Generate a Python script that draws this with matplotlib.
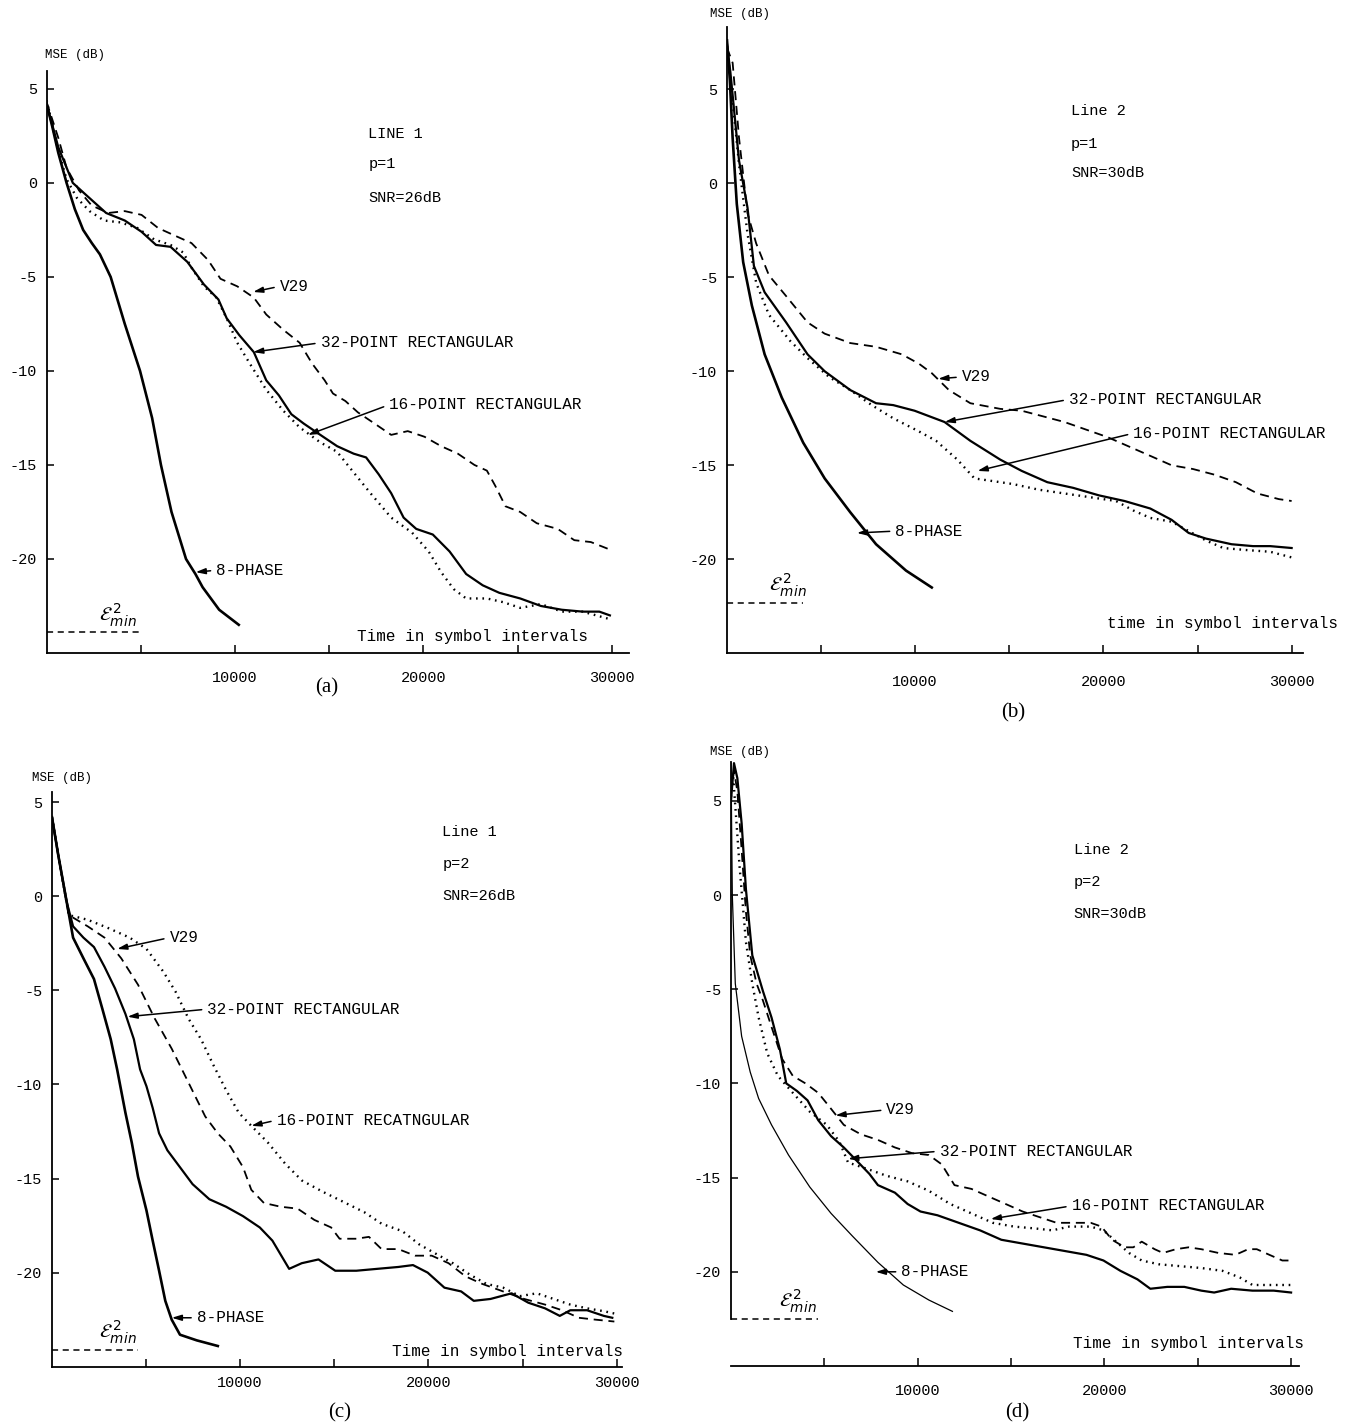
import numpy as np
import matplotlib.pyplot as plt

plt.rcParams['font.family'] = ['Liberation Mono', 'DejaVu Sans']

# ---- data (time in symbols, MSE in dB) ----
# (a) line 1, p=1, SNR=26dB
a_x_8ph = [0, 300, 620, 1060, 1500, 1940, 2400, 2830, 3400, 4150, 4960, 5600, 6070, 6630, 7400, 7900, 8280, 9160, 10200]
a_y_8ph = [4.2, 3.0, 1.6, 0.0, -1.4, -2.5, -3.2, -3.8, -5.0, -7.5, -10.0, -12.5, -15.0, -17.5, -20.0, -20.8, -21.5, -22.7, -23.5]
a_x_32 = [0, 620, 1390, 2160, 3160, 4150, 5040, 5810, 6580, 7470, 8350, 9120, 9560, 10230, 11000, 11660, 12330, 12990,
          13650, 14530, 15420, 16300, 16960, 17630, 18290, 18950, 19620, 20500, 21390, 22270, 23150, 24030, 25140,
          26240, 27350, 28450, 29340, 29900]
a_y_32 = [4.2, 1.9, 0.0, -0.7, -1.6, -2.0, -2.6, -3.3, -3.4, -4.2, -5.4, -6.2, -7.2, -8.1, -9.0, -10.5, -11.3, -12.3,
          -12.8, -13.4, -14.0, -14.4, -14.6, -15.5, -16.5, -17.8, -18.4, -18.7, -19.6, -20.8, -21.4, -21.8, -22.1,
          -22.5, -22.7, -22.8, -22.8, -23.0]
a_x_v29 = [0, 620, 1060, 1720, 2390, 3270, 4150, 5040, 5920, 6800, 7690, 8570, 9230, 10120, 11000, 11660, 12550,
           13430, 14090, 14760, 15200, 15860, 16520, 17410, 18290, 19170, 20060, 20940, 21830, 22710, 23370, 23810,
           24360, 25140, 26020, 27130, 28010, 28890, 29900]
a_y_v29 = [4.3, 2.4, 0.8, -0.4, -1.2, -1.6, -1.5, -1.7, -2.4, -2.8, -3.2, -4.1, -5.1, -5.5, -6.1, -7.0, -7.8,
           -8.5, -9.6, -10.5, -11.2, -11.6, -12.2, -12.8, -13.4, -13.2, -13.5, -14.0, -14.4, -15.0, -15.3, -16.1,
           -17.2, -17.5, -18.1, -18.4, -19.0, -19.1, -19.5]
a_x_16 = [0, 620, 1060, 1610, 2280, 3050, 3930, 4820, 5700, 6580, 7250, 7690, 8350, 9010, 9560, 10120, 10780, 11660,
          12550, 13430, 14530, 15420, 16300, 17190, 18290, 19400, 20280, 20940, 21610, 22270, 23370, 24250, 25140,
          26240, 27350, 28450, 29900]
a_y_16 = [4.4, 1.7, 0.2, -0.8, -1.5, -2.0, -2.1, -2.4, -3.0, -3.3, -3.7, -4.5, -5.5, -6.1, -7.2, -8.5, -9.6, -11.0,
          -12.1, -13.0, -13.8, -14.3, -15.4, -16.5, -17.8, -18.6, -19.6, -20.7, -21.6, -22.1, -22.1, -22.3, -22.6,
          -22.4, -22.8, -22.8, -23.2]
a_emin = -23.9

# (b) line 2, p=1, SNR=30dB
b_x_8ph = [0, 150, 300, 520, 860, 1320, 2000, 2910, 4050, 5190, 6550, 7920, 9510, 10880]
b_y_8ph = [7.6, 5.5, 2.4, -1.1, -4.2, -6.5, -9.1, -11.4, -13.8, -15.7, -17.5, -19.2, -20.6, -21.5]
b_x_32 = [0, 180, 640, 1090, 1430, 2000, 3140, 4280, 5190, 6550, 7920, 8830, 9970, 11560, 12930, 14520, 15660,
          17020, 18390, 19760, 21120, 22490, 23620, 24530, 25450, 26810, 27950, 28860, 30000]
b_y_32 = [7.4, 5.9, 1.2, -1.3, -4.4, -5.8, -7.4, -9.1, -10.0, -11.0, -11.7, -11.8, -12.1, -12.7, -13.7, -14.7, -15.3,
          -15.9, -16.2, -16.6, -16.9, -17.3, -17.9, -18.6, -18.9, -19.2, -19.3, -19.3, -19.4]
b_x_v29 = [0, 300, 640, 1090, 1550, 2230, 3140, 4280, 5190, 6550, 7920, 9290, 10200, 10880, 11790, 12930, 14520,
           15660, 16800, 17930, 19070, 20210, 21350, 22490, 23620, 24760, 25900, 27040, 28180, 29320, 30000]
b_y_v29 = [7.2, 6.4, 2.4, -1.6, -3.2, -4.9, -6.0, -7.4, -8.0, -8.5, -8.7, -9.1, -9.6, -10.1, -11.0, -11.7, -12.0,
           -12.1, -12.4, -12.7, -13.1, -13.5, -14.0, -14.5, -15.0, -15.2, -15.5, -15.9, -16.5, -16.8, -16.9]
b_x_16 = [0, 640, 1090, 1550, 2230, 3370, 4280, 5420, 6550, 7690, 8830, 10200, 11110, 12240, 13150, 13840, 15200,
          16570, 17930, 19300, 20670, 21580, 22490, 23620, 24530, 25450, 26360, 27490, 28860, 30000]
b_y_16 = [7.3, 1.0, -2.7, -5.3, -7.0, -8.4, -9.3, -10.3, -11.0, -11.8, -12.5, -13.2, -13.7, -14.7, -15.7, -15.8,
          -16.0, -16.3, -16.5, -16.7, -16.9, -17.4, -17.8, -18.0, -18.5, -19.0, -19.4, -19.5, -19.6, -19.9]
b_emin = -22.3

# (c) line 1, p=2, SNR=26dB
c_x_8ph = [0, 330, 780, 1120, 1670, 2230, 2680, 3120, 3460, 3900, 4240, 4570, 5020, 5350, 5690, 6020, 6360, 6800,
           7690, 8810]
c_y_8ph = [4.2, 2.2, -0.3, -2.2, -3.3, -4.4, -6.0, -7.6, -9.2, -11.5, -13.1, -14.9, -16.7, -18.3, -19.9, -21.5,
           -22.5, -23.3, -23.6, -23.9]
c_x_32 = [0, 330, 780, 1120, 1670, 2230, 2790, 3350, 3900, 4350, 4680, 5020, 5350, 5690, 6130, 6800, 7470, 8360,
          9250, 10150, 11040, 11710, 12600, 13270, 14160, 15050, 16170, 17280, 18400, 19180, 19960, 20850, 21740,
          22410, 23300, 24420, 25310, 26200, 26980, 27540, 28430, 29320, 29770]
c_y_32 = [4.2, 2.2, -0.3, -1.6, -2.2, -2.7, -3.75, -4.9, -6.25, -7.6, -9.2, -10.1, -11.25, -12.6, -13.5, -14.4,
          -15.3, -16.1, -16.5, -17.0, -17.6, -18.3, -19.8, -19.5, -19.3, -19.9, -19.9, -19.8, -19.7, -19.6, -20.0,
          -20.8, -21.0, -21.5, -21.4, -21.1, -21.6, -21.9, -22.3, -22.0, -22.0, -22.3, -22.4]
c_x_v29 = [0, 330, 890, 1900, 2790, 3680, 4570, 5460, 6360, 7250, 8140, 8810, 9480, 10150, 10590, 11260, 12150,
           13050, 13940, 14830, 15280, 16170, 16840, 17510, 18400, 19290, 20180, 21070, 21970, 22860, 23970, 25090,
           26200, 27100, 27990, 28880, 29880]
c_y_v29 = [4.2, 2.2, -1.0, -1.6, -2.2, -3.3, -4.7, -6.5, -8.1, -9.9, -11.7, -12.6, -13.3, -14.4, -15.6, -16.3,
           -16.5, -16.6, -17.2, -17.6, -18.2, -18.2, -18.1, -18.75, -18.75, -19.1, -19.1, -19.5, -20.2, -20.6, -21.0,
           -21.4, -21.7, -22.0, -22.4, -22.5, -22.6]
c_x_16 = [0, 330, 890, 1900, 3010, 4130, 5020, 5910, 6580, 7250, 7920, 8590, 9250, 9920, 10590, 11480, 12380, 13270,
          14380, 15500, 16610, 17510, 18620, 19510, 20400, 21300, 22190, 23080, 23970, 24860, 25760, 26650, 27540,
          28430, 29320, 30000]
c_y_16 = [4.2, 2.2, -1.0, -1.25, -1.7, -2.2, -2.8, -4.0, -5.1, -6.5, -7.6, -9.0, -10.3, -11.5, -12.2, -13.1, -14.2,
          -15.1, -15.7, -16.25, -16.8, -17.4, -17.8, -18.5, -19.0, -19.5, -20.1, -20.6, -20.8, -21.25, -21.1, -21.4,
          -21.7, -21.9, -22.05, -22.2]
c_emin = -24.1

# (d) line 2, p=2, SNR=30dB
d_x_8ph = [0, 70, 230, 570, 1030, 1480, 2170, 3080, 4220, 5360, 6500, 7870, 9230, 10600, 11860]
d_y_8ph = [7.0, 0.0, -4.7, -7.5, -9.4, -10.8, -12.2, -13.8, -15.5, -16.9, -18.1, -19.5, -20.7, -21.5, -22.1]
d_x_32 = [0, 160, 340, 570, 800, 1140, 1710, 2170, 2620, 2960, 3530, 4100, 4670, 5360, 6040, 6730, 7410, 7870, 8780,
          9460, 10150, 11060, 12200, 13340, 14480, 15620, 16760, 17900, 19040, 19950, 20860, 21770, 22460, 23370,
          24280, 25190, 25880, 26790, 27930, 29070, 30000]
d_y_32 = [5.0, 7.0, 6.2, 3.8, 0.3, -3.2, -5.1, -6.5, -8.2, -10.0, -10.4, -10.9, -11.95, -12.8, -13.4, -14.1, -14.8,
          -15.4, -15.8, -16.4, -16.8, -17.0, -17.4, -17.8, -18.3, -18.5, -18.7, -18.9, -19.1, -19.4, -19.95, -20.4,
          -20.9, -20.8, -20.8, -21.0, -21.1, -20.9, -21.0, -21.0, -21.1]
d_x_v29 = [0, 160, 340, 570, 800, 1030, 1370, 1710, 2170, 2740, 3310, 3990, 4670, 5240, 6040, 6950, 7870, 8780,
           9690, 10600, 11290, 11970, 12880, 13790, 14710, 15620, 16530, 17440, 18350, 19270, 19840, 20410, 21090,
           21550, 22000, 22690, 23140, 23830, 24510, 25190, 26110, 27020, 27700, 28160, 28840, 29530, 30000]
d_y_v29 = [5.5, 6.6, 5.5, 2.4, -0.9, -3.2, -4.7, -5.6, -7.0, -8.7, -9.6, -10.0, -10.5, -11.2, -12.2, -12.7, -13.0,
           -13.4, -13.7, -13.8, -14.3, -15.4, -15.6, -16.0, -16.4, -16.8, -17.1, -17.4, -17.4, -17.4, -17.6, -18.3,
           -18.7, -18.7, -18.4, -18.8, -19.0, -18.8, -18.7, -18.8, -19.0, -19.1, -18.8, -18.8, -19.1, -19.4, -19.4]
d_x_16 = [0, 110, 460, 800, 1140, 1480, 1940, 2510, 3310, 4220, 5130, 5810, 6270, 7180, 8320, 9460, 10600, 11740,
          12880, 14020, 15160, 16300, 17210, 18120, 19270, 19950, 20630, 21320, 22000, 22910, 24050, 25190, 26330,
          27250, 27930, 28840, 30000]
d_y_16 = [5.2, 6.4, 1.5, -2.5, -4.7, -6.5, -8.4, -9.6, -10.5, -11.5, -12.2, -13.1, -14.2, -14.5, -14.9, -15.2,
          -15.7, -16.4, -16.9, -17.4, -17.6, -17.7, -17.8, -17.6, -17.6, -17.8, -18.4, -19.0, -19.4, -19.6, -19.7,
          -19.8, -19.95, -20.3, -20.7, -20.7, -20.7]
d_emin = -22.5

xticks = [5000, 10000, 15000, 20000, 25000, 30000]
xticklabels = ['', '10000', '', '20000', '', '30000']
yticks = [5, 0, -5, -10, -15, -20]

W, H = 1351, 1426
fig = plt.figure(figsize=(W / 100, H / 100), dpi=100)


def px_axes(l, r, b, t):
    return fig.add_axes([l / W, 1 - b / H, (r - l) / W, (b - t) / H])


def setup(ax, xmax, ymax, xpad):
    ax.set_xlim(0, xmax)
    ax.set_ylim(-25, ymax)
    for s in ['top', 'right']:
        ax.spines[s].set_visible(False)
    for s in ['left', 'bottom']:
        ax.spines[s].set_linewidth(1.3)
    ax.set_xticks(xticks)
    ax.set_xticklabels(xticklabels)
    ax.set_yticks(yticks)
    ax.set_yticklabels([str(v) for v in yticks])
    ax.tick_params(axis='x', direction='in', length=6, width=1.1, labelsize=11, pad=xpad)
    ax.tick_params(axis='y', direction='in', length=5, width=1.1, labelsize=11, pad=7)
    ax.patch.set_alpha(0)


def curves(ax, x8, y8, x32, y32, xv, yv, x16, y16, emin, emin_end, lw8=1.9):
    ax.plot(x8, y8, '-', color='black', lw=lw8)
    ax.plot(x32, y32, '-', color='black', lw=1.6)
    ax.plot(xv, yv, color='black', lw=1.3, linestyle=(0, (5, 3.2)))
    ax.plot(x16, y16, color='black', lw=1.7, linestyle=(0, (0.7, 2.0)))
    ax.plot([0, emin_end], [emin, emin], color='black', lw=1.1, linestyle=(0, (4, 3)))
    ax.text(emin_end * 0.55, emin + 0.2, r'$\mathcal{E}^{\,2}_{min}$', fontsize=14,
            family='DejaVu Sans', ha='left', va='bottom')


def label(ax, txt, tip, pos):
    ax.annotate(txt, xy=tip, xytext=pos, fontsize=11.5, ha='left', va='center',
                arrowprops=dict(arrowstyle='-|>,head_length=0.5,head_width=0.15', lw=1.1,
                                color='black', shrinkA=2, shrinkB=0, relpos=(0, 0.5)))


def info(ax, x, ys, lines):
    for y, t in zip(ys, lines):
        ax.text(x, y, t, fontsize=11, ha='left', va='center')


# (a)
ax = px_axes(46.6, 629.3, 653, 71.4)
setup(ax, 30930, 5.93, 13)
curves(ax, a_x_8ph, a_y_8ph, a_x_32, a_y_32, a_x_v29, a_y_v29, a_x_16, a_y_16, a_emin, 5040)
label(ax, 'V29', (10960, -5.8), (12370, -5.5))
label(ax, '32-POINT RECTANGULAR', (10960, -9.0), (14540, -8.5))
label(ax, '16-POINT RECTANGULAR', (13870, -13.4), (18180, -11.8))
label(ax, '8-PHASE', (7910, -20.7), (9000, -20.6))
info(ax, 17070, [2.6, 1.0, -0.8], ['LINE 1', 'p=1', 'SNR=26dB'])
ax.text(16500, -24.1, 'Time in symbol intervals', fontsize=11.5, ha='left', va='center')

# (b)
ax = px_axes(727, 1303.3, 653.3, 26.8)
setup(ax, 30620, 8.32, 15.5)
curves(ax, b_x_8ph, b_y_8ph, b_x_32, b_y_32, b_x_v29, b_y_v29, b_x_16, b_y_16, b_emin, 4050)
label(ax, 'V29', (11220, -10.4), (12470, -10.3))
label(ax, '32-POINT RECTANGULAR', (11560, -12.7), (18160, -11.5))
label(ax, '16-POINT RECTANGULAR', (13310, -15.3), (21580, -13.3))
label(ax, '8-PHASE', (6900, -18.6), (8940, -18.5))
info(ax, 18280, [3.85, 2.1, 0.55], ['Line 2', 'p=1', 'SNR=30dB'])
ax.text(20210, -23.4, 'time in symbol intervals', fontsize=11.5, ha='left', va='center')

# (c)
ax = px_axes(52, 621.7, 1366.7, 792)
setup(ax, 30270, 5.54, 7)
curves(ax, c_x_8ph, c_y_8ph, c_x_32, c_y_32, c_x_v29, c_y_v29, c_x_16, c_y_16, c_emin, 4570)
label(ax, 'V29', (3460, -2.8), (6240, -2.2))
label(ax, '32-POINT RECTANGULAR', (4010, -6.4), (8250, -6.0))
label(ax, '16-POINT RECATNGULAR', (10590, -12.2), (11930, -11.9))
label(ax, '8-PHASE', (6360, -22.4), (7690, -22.4))
info(ax, 20740, [3.4, 1.7, 0.0], ['Line 1', 'p=2', 'SNR=26dB'])
ax.text(18060, -24.2, 'Time in symbol intervals', fontsize=11.5, ha='left', va='center')

# (d)
ax = px_axes(731, 1299.3, 1366, 762)
setup(ax, 30440, 7.06, 13)
ax.spines['left'].set_bounds(-22.5, 7.06)
curves(ax, d_x_8ph, d_y_8ph, d_x_32, d_y_32, d_x_v29, d_y_v29, d_x_16, d_y_16, d_emin, 4670, lw8=0.9)
label(ax, 'V29', (5590, -11.7), (8320, -11.4))
label(ax, '32-POINT RECTANGULAR', (6270, -14.0), (11170, -13.6))
label(ax, '16-POINT RECTANGULAR', (13910, -17.2), (18240, -16.5))
label(ax, '8-PHASE', (7750, -20.0), (9120, -20.0))
info(ax, 18350, [2.4, 0.7, -1.0], ['Line 2', 'p=2', 'SNR=30dB'])
ax.text(18300, -23.8, 'Time in symbol intervals', fontsize=11.5, ha='left', va='center')

# axis titles and panel letters
for x, y in [(45, 55), (710, 14), (32, 778), (710, 752)]:
    fig.text(x / W, 1 - y / H, 'MSE (dB)', fontsize=9, ha='left', va='center')
for t, x, y in [('(a)', 327, 688), ('(b)', 1013, 713), ('(c)', 340, 1413), ('(d)', 1017, 1413)]:
    fig.text(x / W, 1 - y / H, t, fontsize=15, family='Liberation Serif', ha='center', va='center')

fig.savefig('out.png', dpi=100)
